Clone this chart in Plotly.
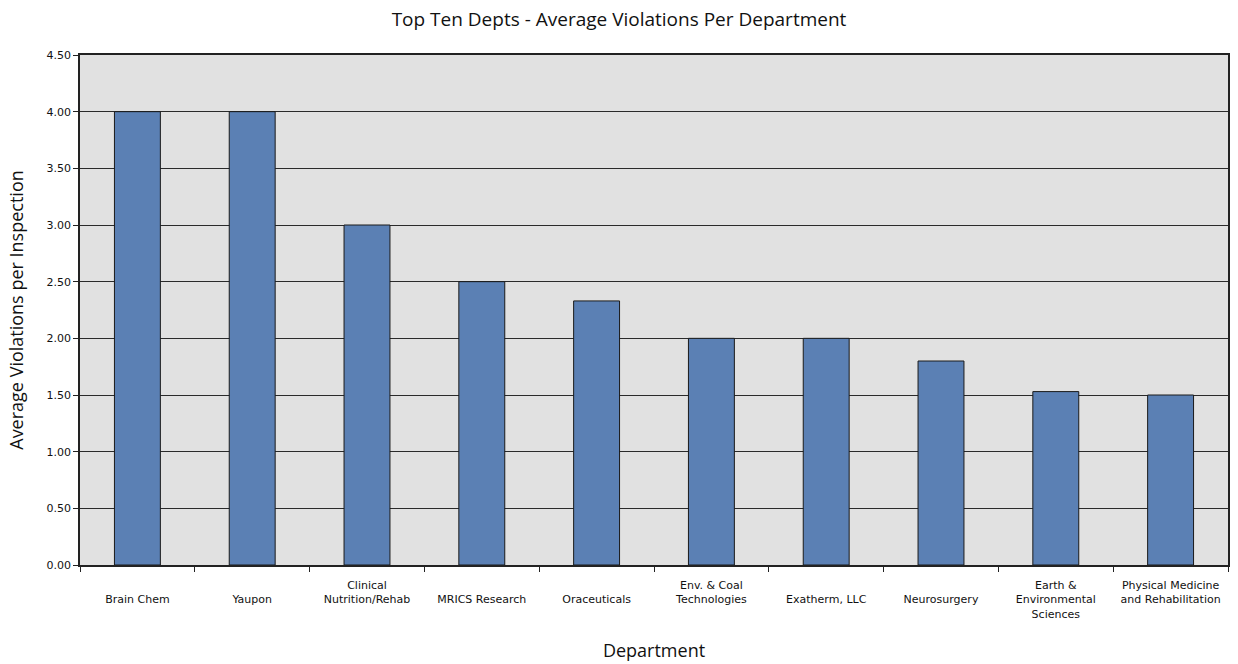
import plotly.graph_objects as go

departments = ["Brain Chem", "Yaupon", "Clinical Nutrition/Rehab", "MRICS Research",
               "Oraceuticals", "Env. & Coal Technologies", "Exatherm, LLC", "Neurosurgery",
               "Earth & Environmental Sciences", "Physical Medicine and Rehabilitation"]
tick_text = ["<br>Brain Chem", "<br>Yaupon", "Clinical<br>Nutrition/Rehab", "<br>MRICS Research",
             "<br>Oraceuticals", "Env. & Coal<br>Technologies", "<br>Exatherm, LLC", "<br>Neurosurgery",
             "Earth &<br>Environmental<br>Sciences", "Physical Medicine<br>and Rehabilitation"]
avg_violations = [4.0, 4.0, 3.0, 2.5, 2.33, 2.0, 2.0, 1.8, 1.53, 1.5]
y_ticks = [0, 0.5, 1.0, 1.5, 2.0, 2.5, 3.0, 3.5, 4.0, 4.5]

title_font = "Open Sans, Liberation Sans, sans-serif"
tick_font = "DejaVu Sans, sans-serif"

fig = go.Figure(go.Bar(
    x=departments, y=avg_violations,
    marker=dict(color="#5b80b4", line=dict(color="#1a1a1a", width=1)),
    width=0.4,
))

fig.update_layout(
    width=1238, height=664,
    margin=dict(l=80, r=10, t=55, b=99, autoexpand=False),
    paper_bgcolor="white", plot_bgcolor="#e1e1e1",
    font=dict(family=title_font, color="#111111"),
    title=dict(text="Top Ten Depts - Average Violations Per Department",
               x=0.5, xanchor="center", y=0.971, yanchor="middle",
               font=dict(size=19, family=title_font, color="#111111")),
    showlegend=False,
    bargap=0.6,
)

fig.update_xaxes(
    tickmode="array", tickvals=departments, ticktext=tick_text,
    tickfont=dict(size=11, family=tick_font, color="#111111"),
    tickson="boundaries", ticks="outside", ticklen=5, ticklabelstandoff=9,
    tickcolor="#222222", showline=True, linecolor="#222222", linewidth=1.5, mirror=True,
    title=dict(text="Department", font=dict(size=18, family=title_font), standoff=25),
    showgrid=False, automargin=False,
)
fig.update_yaxes(
    range=[0, 4.5], tickvals=y_ticks, tickformat=".2f",
    tickfont=dict(size=11, family=tick_font, color="#111111"),
    ticks="outside", ticklen=5, tickcolor="#222222",
    showline=True, linecolor="#222222", linewidth=1.5, mirror=True,
    gridcolor="#2a2a2a", gridwidth=1,
    title=dict(text="Average Violations per Inspection", font=dict(size=18, family=title_font), standoff=18),
    zeroline=False, automargin=False,
)

fig.write_html("out.html", config={"displayModeBar": False},
               post_script="document.body.style.margin='0';document.body.style.overflow='hidden';")
